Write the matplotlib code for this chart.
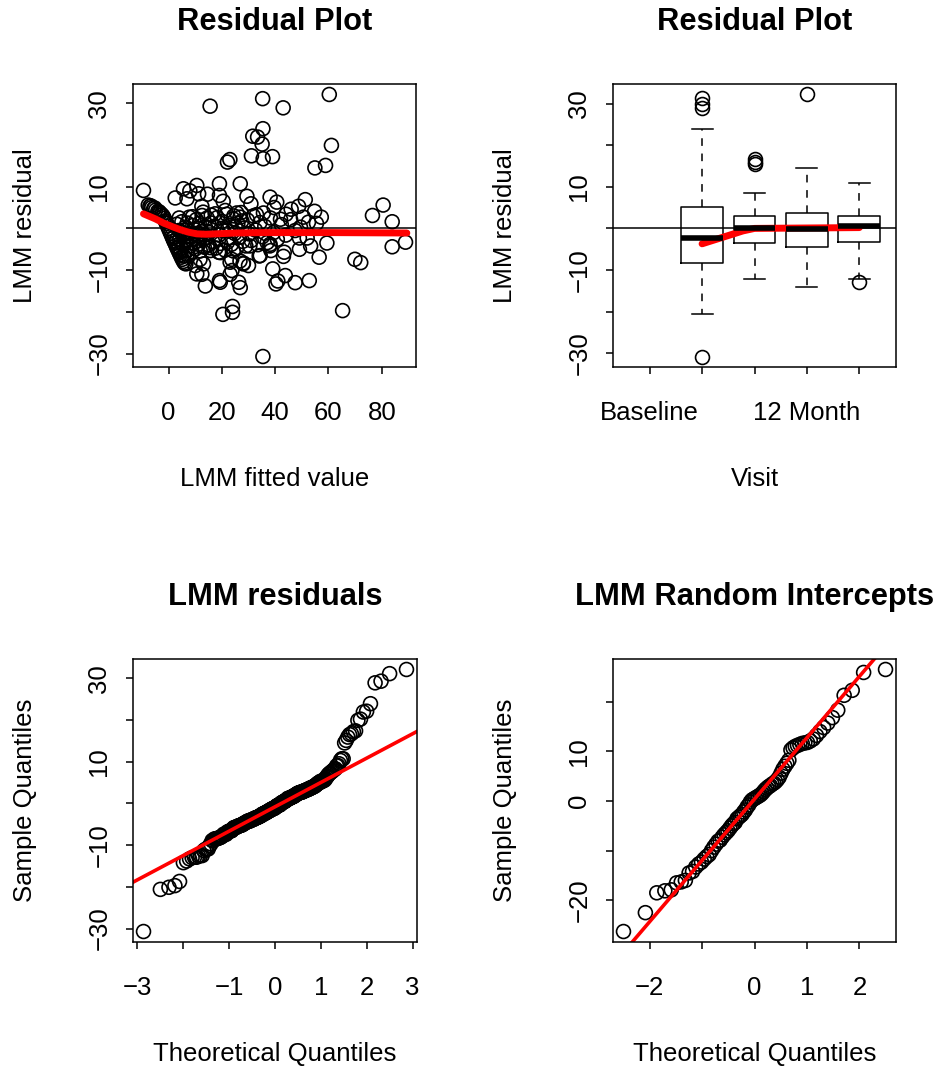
import matplotlib
matplotlib.use("Agg")
import matplotlib.pyplot as plt
import numpy as np
from statistics import NormalDist

plt.rcParams['font.family'] = ['Liberation Sans', 'DejaVu Sans']
FS = 18.5
TS = 22.2

# ---- LMM fitted values / residuals ----
fitted_vals = [
    # large positive residuals
    15.6, 35.3, 43.0, 60.3, 35.4, 31.6, 33.4, 35.1, 61.1, 22.1, 23.0, 31.1, 35.5, 39.0, 54.9, 58.9,
    # far right
    76.5, 80.5, 83.9, 88.9, 83.9, 69.9, 72.1, 65.3,
    # large negative residuals
    35.4, 20.4, 24.0, 24.0, 13.8, 19.1, 19.4, 26.9, 26.3, 23.1, 10.6, 12.5, 40.3, 41.0, 43.8, 47.5, 52.8, 39.1,
    # moderate negatives, right part
    56.5, 59.4, 53.3, 49.1, 49.1, 43.4, 43.1, 38.1, 38.4, 34.4, 30.0, 28.1, 23.1, 23.8, 22.1, 18.8,
    # moderate positives
    -9.4, 26.9, 19.1, 19.1, 10.6, 5.6, 2.5, 6.9, 11.3, 14.6, 12.5, 29.4, 30.9, 38.1, 40.6, 39.6,
    51.3, 48.8, 54.8, 57.3, 50.6, 52.5, 44.1, 35.6, 25.6, 26.9, 21.3, 17.5,
    8.0, 13.0, 16.0, 9.0, 4.0, 20.5, 24.5, 27.5, 33.0, 46.0, 42.0,
    # moderate negatives, left part
    10.0, 13.1, 23.7, 28.0, 26.8, 34.0, 38.0, 24.3, 19.4, 15.6, 30.5, 7.5, 5.6, 11.8,
    # diagonal band
    -7.6, -7.0, -6.3, -5.6, -4.8, -4.0, -3.2, -2.5, -2.0, -1.6, -1.2, -0.8, -0.4, 0.0, 0.4, 0.8,
    1.2, 1.6, 2.0, 2.4, 2.8, 3.2, 3.6, 4.0, 4.4, 4.8, 5.2, 5.6, 6.0, 6.5, -6.6, -5.2, -3.6, -1.0,
    # dense cluster, low fitted
    2.2, 2.8, 3.1, 3.5, 3.9, 4.2, 4.6, 5.0, 5.3, 5.7, 6.1, 6.4, 6.8, 7.1, 7.4, 7.8, 8.1, 8.4, 8.8, 9.1,
    9.4, 9.8, 10.1, 10.4, 10.8, 11.2, 11.5, 11.9, 12.3, 12.6, 13.0, 13.4, 13.8, 14.1, 14.5, 14.9, 15.3, 15.7, 16.0, 3.0,
    4.8, 6.6, 8.6, 10.6, 12.0, 9.6, 7.0, 5.9, 11.0, 13.6,
    # cluster, mid fitted
    16.6, 17.2, 17.8, 18.3, 18.9, 19.5, 20.1, 20.7, 21.2, 21.8, 22.4, 23.0, 23.6, 24.2, 24.8, 25.4,
    26.0, 26.6, 27.2, 27.8, 28.4, 29.0, 29.6, 30.2, 31.0, 31.8, 32.6, 33.5, 34.3, 35.2, 36.1, 37.0,
    38.2, 39.4, 40.8, 42.3, 44.0, 45.8, 47.5, 49.5, 52.0, 55.5, 19.8, 22.0, 25.0,
]
resid_vals = [
    29.3, 31.1, 28.9, 32.1, 23.9, 22.1, 21.9, 20.2, 19.9, 15.9, 16.5, 17.4, 16.7, 17.2, 14.5, 15.1,
    3.1, 5.6, 1.6, -3.3, -4.4, -7.4, -8.2, -19.7,
    -30.7, -20.6, -20.1, -18.7, -13.8, -12.5, -12.9, -14.2, -12.9, -11.0, -10.9, -11.0, -13.3, -12.6, -11.3, -13.0, -12.5, -9.7,
    -6.9, -3.5, -4.2, -5.0, -2.3, -5.7, -6.7, -3.8, -5.3, -6.5, -8.9, -8.3, -8.1, -10.1, -3.3, -5.7,
    9.1, 10.7, 10.7, 7.9, 10.3, 9.5, 7.3, 7.1, 8.3, 8.2, 5.3, 7.7, 5.9, 7.5, 6.3, 5.0,
    6.9, 5.3, 4.1, 2.7, 2.7, 1.5, 3.4, 3.7, 3.7, 2.7, 4.3, 3.5,
    9.0, 3.9, 3.2, 2.8, 2.5, 6.5, 3.0, 1.8, 3.3, 4.6, 2.2,
    -8.9, -8.5, -7.4, -8.5, -7.8, -6.6, -4.2, -5.4, -5.8, -4.6, -4.2, -6.6, -6.6, -7.4,
    5.6, 5.3, 5.0, 4.7, 4.4, 4.1, 3.7, 3.3, 2.9, 2.4, 1.8, 1.2, 0.6, 0.0, -0.6, -1.2,
    -1.8, -2.4, -3.0, -3.5, -4.1, -4.7, -5.2, -5.8, -6.3, -6.9, -7.4, -7.9, -8.3, -8.5, 5.4, 4.9, 4.0, 1.6,
    -1.9, -3.4, 1.0, -4.4, -0.5, -2.6, -5.7, 1.6, -1.4, -3.9, -6.0, 0.3, -3.0, -5.2, -1.2, 2.7, -4.2, -2.1, -5.6, 0.7,
    -3.5, -0.3, -4.9, 2.1, -1.7, -3.8, 1.2, -5.4, -0.8, 3.1, -2.7, -4.5, 0.4, -2.2, 2.5, -3.9, -1.0, -5.3, 1.3, -2.6,
    -0.9, -1.8, -2.6, -3.1, -1.3, -1.3, 1.3, -0.4, 0.0, -1.6,
    -3.2, 0.5, -4.7, 2.6, -1.6, -3.6, 1.7, -0.6, -5.2, 3.4, -2.3, 0.8, -3.8, 2.3, -1.2, -4.9,
    1.2, -2.1, 3.8, -3.1, 0.1, -4.2, 2.0, -1.3, -2.9, 3.0, -0.4, -3.9, 1.4, -2.0, 0.5, -3.4,
    2.5, -1.0, -2.6, 0.9, -1.6, 2.1, -0.5, 0.3, -2.3, 1.2, 0.0, -0.4, 0.4,
]

# loess smooth of residual vs fitted
smooth_x = [-9.4, -5.0, -1.9, 1.5, 4.4, 7.5, 10.6, 14.0, 18.0, 25.0, 35.6, 45.0, 60.6, 75.0, 89.4]
smooth_y = [3.5, 2.3, 1.3, 0.4, -0.3, -0.9, -1.3, -1.4, -1.3, -1.1, -1.0, -1.0, -1.0, -1.05, -1.1]

# ---- residuals by visit (box statistics) ----
visits = ["Baseline", "3 Month", "6 Month", "12 Month", "24 Month"]
visit_shown = ["Baseline", "", "", "12 Month", ""]
box_pos = [2, 3, 4, 5]
box_med = [-2.2, 0.0, -0.2, 0.6]
box_q1 = [-8.2, -3.4, -4.4, -3.2]
box_q3 = [5.2, 3.0, 3.8, 3.1]
box_lo = [-20.6, -12.1, -14.2, -12.2]
box_hi = [24.0, 8.4, 14.5, 10.8]
box_out = [[31.3, 30.0, 29.0, -30.8], [16.8, 16.0, 15.6], [32.2], [-13.0]]
visit_smooth_x = [2, 2.78, 3, 4, 5]
visit_smooth_y = [-3.7, -0.6, 0.0, 0.1, 0.2]

# ---- random intercepts ----
ranef = [
    -26.3, -22.5, -18.5, -18.1, -17.9, -16.5, -16.3, -16.0, -14.5, -14.2,
    -13.3, -12.7, -12.3, -11.7, -11.2, -10.8, -10.0, -9.3, -8.7, -8.1,
    -7.9, -7.3, -6.8, -6.4, -6.0, -5.5, -5.0, -4.6, -4.3, -3.6,
    -3.3, -3.0, -2.7, -2.2, -1.8, -1.2, -0.8, -0.2, 0.2, 0.4,
    0.6, 0.8, 1.0, 1.2, 1.5, 1.9, 2.3, 2.6, 2.9, 3.1,
    3.4, 3.6, 3.9, 4.3, 4.8, 5.6, 6.4, 7.0, 7.6, 8.2,
    10.3, 10.7, 11.0, 11.2, 11.4, 11.6, 11.7, 11.8, 12.1, 12.5,
    13.2, 14.0, 14.8, 15.7, 16.8, 18.3, 21.3, 22.3, 25.9, 26.5,
]


def rlim(v, pad=0.04):
    lo, hi = min(v), max(v)
    d = (hi - lo) * pad
    return lo - d, hi + d


def ppoints_norm(n):
    a = 3 / 8 if n <= 10 else 0.5
    nd = NormalDist()
    return np.array([nd.inv_cdf((i - a) / (n + 1 - 2 * a)) for i in range(1, n + 1)])


def lab(v):
    return str(v).replace('-', '\u2212')


def style(ax, xt, xl, yt, yl):
    ax.set_xticks(xt, xl)
    ax.set_yticks(yt, yl)
    ax.tick_params(direction='out', length=5, width=1.1, labelsize=FS)
    ax.tick_params(axis='x', pad=19.5)
    ax.tick_params(axis='y', pad=10.5)
    for t in ax.get_yticklabels():
        t.set_rotation(90)
        t.set_va('center')
    for s in ax.spines.values():
        s.set_linewidth(1.1)


def labels(ax, title, xlab, ylab):
    ax.text(0.5, 1.219, title, transform=ax.transAxes, ha='center', va='center',
            fontsize=TS, fontweight='bold')
    ax.text(0.5, -0.397, xlab, transform=ax.transAxes, ha='center', va='center', fontsize=FS)
    ax.text(-0.382, 0.5, ylab, transform=ax.transAxes, ha='center', va='center',
            fontsize=FS, rotation=90)


W, H = 942, 1071
fig = plt.figure(figsize=(W / 100, H / 100), dpi=100)


def add_ax(x0, y0, x1, y1):
    return fig.add_axes([x0 / W, 1 - y1 / H, (x1 - x0) / W, (y1 - y0) / H])


circ = dict(facecolors='none', edgecolors='black', s=100, linewidths=1.2)
res_ticks = [-30, -20, -10, 0, 10, 20, 30]
res_labels = [lab(v) if v in (-30, -10, 10, 30) else '' for v in res_ticks]

# panel 1: residual vs fitted
ax1 = add_ax(133, 84, 416, 367)
ax1.scatter(fitted_vals, resid_vals, **circ)
ax1.axhline(0, color='black', lw=1.1)
ax1.plot(smooth_x, smooth_y, color='red', lw=5, solid_capstyle='round')
ax1.set_xlim(rlim(fitted_vals))
ax1.set_ylim(rlim(resid_vals))
style(ax1, [0, 20, 40, 60, 80], ['0', '20', '40', '60', '80'], res_ticks, res_labels)
labels(ax1, 'Residual Plot', 'LMM fitted value', 'LMM residual')

# panel 2: residual by visit
ax2 = add_ax(613, 84, 896, 367)
stats = []
for i in range(len(box_pos)):
    stats.append(dict(med=box_med[i], q1=box_q1[i], q3=box_q3[i], whislo=box_lo[i],
                      whishi=box_hi[i], fliers=box_out[i]))
ax2.bxp(stats, positions=box_pos, widths=0.8, capwidths=0.4, manage_ticks=False,
        boxprops=dict(color='black', lw=1.1),
        whiskerprops=dict(color='black', lw=1.1, linestyle=(0, (5, 5))),
        capprops=dict(color='black', lw=1.1),
        medianprops=dict(color='black', lw=4, solid_capstyle='butt'),
        flierprops=dict(marker='o', markerfacecolor='none', markeredgecolor='black',
                        markersize=10, markeredgewidth=1.2))
ax2.axhline(0, color='black', lw=1.1)
ax2.plot(visit_smooth_x, visit_smooth_y, color='red', lw=5, solid_capstyle='round')
ax2.set_xlim(rlim([0.5, len(visits) + 0.5]))
all_box = [v for lst in box_out for v in lst] + box_lo + box_hi
ax2.set_ylim(rlim(all_box))
style(ax2, list(range(1, len(visits) + 1)), visit_shown, res_ticks, res_labels)
labels(ax2, 'Residual Plot', 'Visit', 'LMM residual')


def qqpanel(ax, vals):
    y = np.sort(np.array(vals))
    x = ppoints_norm(len(y))
    ax.scatter(x, y, **circ)
    yq = np.quantile(y, [0.25, 0.75])
    xq = np.array([NormalDist().inv_cdf(0.25), NormalDist().inv_cdf(0.75)])
    slope = (yq[1] - yq[0]) / (xq[1] - xq[0])
    icpt = yq[0] - slope * xq[0]
    ax.set_xlim(rlim(x))
    ax.set_ylim(rlim(y))
    ax.axline((0, icpt), slope=slope, color='red', lw=2.6)


# panel 3: QQ of residuals
ax3 = add_ax(133, 659, 417, 942)
qqpanel(ax3, resid_vals)
style(ax3, [-3, -2, -1, 0, 1, 2, 3], [lab(v) if v != -2 else '' for v in range(-3, 4)],
      res_ticks, res_labels)
labels(ax3, 'LMM residuals', 'Theoretical Quantiles', 'Sample Quantiles')

# panel 4: QQ of random intercepts
ax4 = add_ax(613, 659, 896, 942)
qqpanel(ax4, ranef)
re_ticks = [-20, -10, 0, 10, 20]
style(ax4, [-2, -1, 0, 1, 2], [lab(v) if v != -1 else '' for v in range(-2, 3)],
      re_ticks, [lab(v) if v in (-20, 0, 10) else '' for v in re_ticks])
labels(ax4, 'LMM Random Intercepts', 'Theoretical Quantiles', 'Sample Quantiles')

fig.savefig('out.png', dpi=100)
